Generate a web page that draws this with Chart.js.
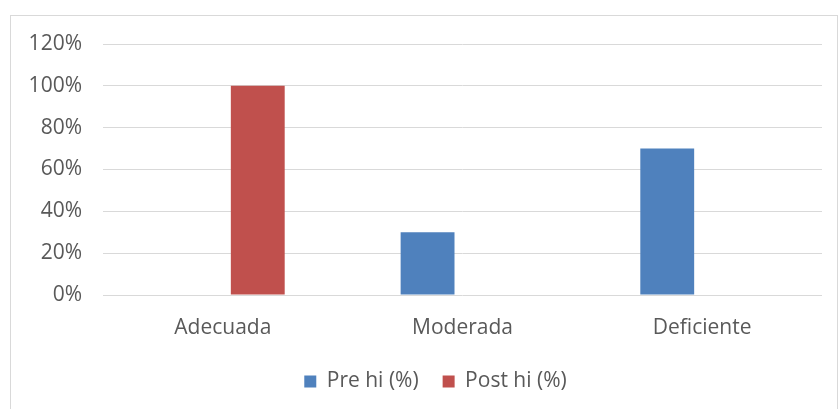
<!DOCTYPE html>
<html>
<head>
<meta charset="utf-8">
<script src="https://cdn.jsdelivr.net/npm/chart.js@4/dist/chart.umd.min.js"></script>
<style>
  html, body { margin: 0; padding: 0; background: #fff; overflow: hidden; }
  #box {
    position: absolute; left: 10px; top: 15px;
    width: 828px; height: 420px;
    border: 1px solid #d9d9d9; box-sizing: border-box;
  }
  #wrap { position: absolute; left: 0; top: 0; width: 827px; height: 397px; }
</style>
</head>
<body>
<div id="box"><div id="wrap"><canvas id="chart"></canvas></div></div>
<script>
var categories = ["Adecuada", "Moderada", "Deficiente"];
var preValues = [0, 30, 70];
var postValues = [100, 0, 0];
var seriesNames = ["Pre hi (%)", "Post hi (%)"];
var yTicks = [0, 20, 40, 60, 80, 100, 120];

var txt = "#595959";
var fnt = { family: "'Open Sans', sans-serif", size: 21 };

// the legend in the original sits a bit right of the canvas centre
var legendShift = {
    id: 'legendShift',
    afterLayout: function(chart){
        if (chart.legend){
            chart.legend.left += 19;
            chart.legend.right += 19;
        }
    }
};

var ctx = document.getElementById("chart");
var chart = new Chart(ctx, {
    type: 'bar',
    data: {
        labels: categories,
        datasets: [{
            label: seriesNames[0],
            data: preValues,
            backgroundColor: '#4f81bd',
            categoryPercentage: 0.583,
            barPercentage: 0.771
        }, {
            label: seriesNames[1],
            data: postValues,
            backgroundColor: '#c0504d',
            categoryPercentage: 0.583,
            barPercentage: 0.771
        }]
    },
    plugins: [legendShift],
    options: {
        responsive: true,
        maintainAspectRatio: false,
        animation: false,
        layout: { padding: { left: 0, right: 16, top: 28, bottom: 11 } },
        plugins: {
            tooltip: { enabled: false },
            legend: {
                position: 'bottom',
                labels: {
                    color: txt, font: fnt,
                    boxWidth: 12, boxHeight: 12,
                    padding: 24
                }
            }
        },
        scales: {
            x: {
                grid: { display: false, drawTicks: false },
                border: { display: false },
                ticks: { color: txt, font: fnt, padding: 20 },
                afterFit: function(s){ s.height = 52; }
            },
            y: {
                min: yTicks[0],
                max: yTicks[yTicks.length - 1],
                grid: { color: '#d9d9d9', drawTicks: false, lineWidth: 1 },
                border: { display: false },
                ticks: {
                    stepSize: 20, color: txt, font: fnt, padding: 21,
                    callback: function(v){ return v + '%'; }
                },
                afterFit: function(s){
                    s.width = 92;
                    s.paddingTop = 0;
                    s.paddingBottom = 0;
                }
            }
        }
    }
});
</script>
</body>
</html>
